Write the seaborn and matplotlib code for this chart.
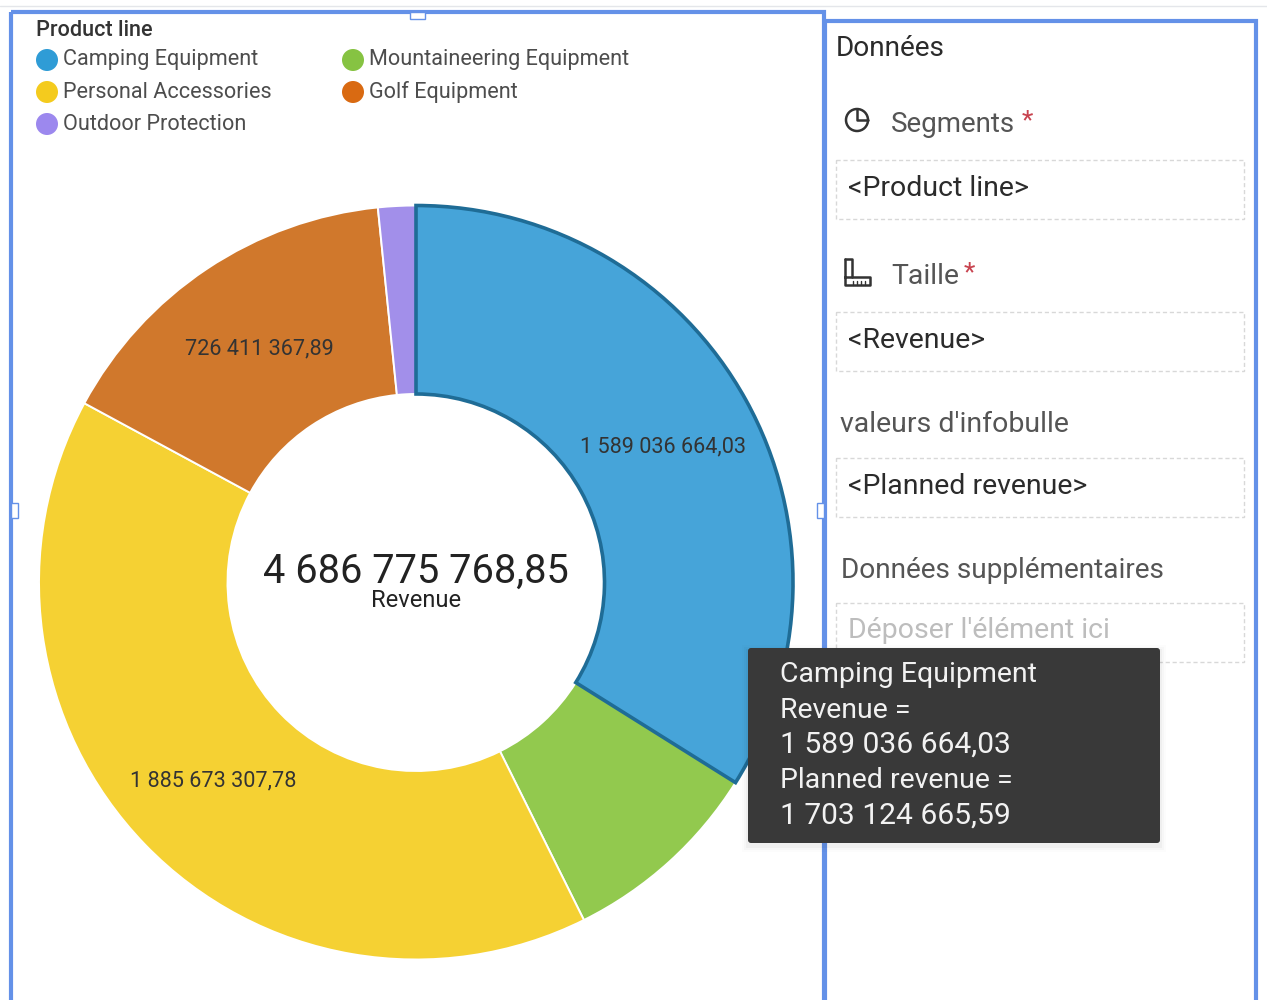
import numpy as np
import matplotlib
matplotlib.use("Agg")
import matplotlib.pyplot as plt
from matplotlib.patches import Rectangle, FancyBboxPatch, Circle
import seaborn as sns

categories = ["Camping Equipment", "Mountaineering Equipment", "Personal Accessories",
              "Golf Equipment", "Outdoor Protection"]
revenue = [1589036664.03, 410000000.0, 1885673307.78, 726411367.89, 75654429.15]
slice_labels = ["1 589 036 664,03", "", "1 885 673 307,78", "726 411 367,89", ""]
slice_colors = ["#46A4D9", "#92C94E", "#F5D133", "#D0782C", "#A28FEA"]
legend_colors = ["#2F9CD6", "#86C342", "#F4CB1E", "#D96A12", "#9C88EE"]
legend_title = "Product line"
total_label = "4 686 775 768,85"
measure_label = "Revenue"
tooltip_lines = ["Camping Equipment", "Revenue =", "1 589 036 664,03",
                 "Planned revenue =", "1 703 124 665,59"]
tooltip_sizes = [20.5, 20.5, 21.6, 20.5, 21.6]

W, H = 1267, 1000
sns.set_theme(style="white")
plt.rcParams["font.family"] = ["Roboto", "DejaVu Sans"]
fig = plt.figure(figsize=(W / 100, H / 100), dpi=100, facecolor="white")

# donut
cx, cy, R = 416, 582.5, 377
ax = fig.add_axes([(cx - R) / W, 1 - (cy + R) / H, 2 * R / W, 2 * R / H])
wedges, _ = ax.pie(revenue, colors=slice_colors, startangle=90, counterclock=False, radius=1,
                   wedgeprops=dict(width=0.5, edgecolor="white", linewidth=1.4))
ax.set_xlim(-1, 1)
ax.set_ylim(-1, 1)
ax.set_aspect("equal")
ax.patch.set_alpha(0)
wedges[0].set_edgecolor("#1F6C96")
wedges[0].set_linewidth(2.6)
wedges[0].set_zorder(5)
for w, lab in zip(wedges, slice_labels):
    if lab:
        mid = np.deg2rad((w.theta1 + w.theta2) / 2)
        ax.text(0.75 * np.cos(mid), 0.75 * np.sin(mid) - 0.005, lab, ha="center", va="center",
                fontsize=15.6, color="#333333", zorder=6)
ax.text(0, 0.03, total_label, ha="center", va="center", fontsize=28.6, color="#222222")
ax.text(0, -0.047, measure_label, ha="center", va="center", fontsize=17, color="#222222")

# page overlay in pixel coordinates
ov = fig.add_axes([0, 0, 1, 1], zorder=10)
ov.set_xlim(0, W)
ov.set_ylim(H, 0)
ov.axis("off")
ov.patch.set_alpha(0)

ov.plot([0, W], [6, 6], color="#E4E6EA", lw=1)
blue = "#6491E8"
ov.add_patch(Rectangle((11, 12), 813, 1000, fill=False, ec=blue, lw=3))
ov.add_patch(Rectangle((825, 21), 431, 1000, fill=False, ec=blue, lw=3))
for (x, y, w, h) in [(410, 12, 15, 7), (11, 503, 7, 15), (817, 503, 7, 15)]:
    ov.add_patch(Rectangle((x, y), w, h, fc="white", ec=blue, lw=1))

# legend
ov.text(36, 30, legend_title, fontsize=15.6, fontweight="medium", color="#333333", va="center")
legend_pos = [(47, 60), (353, 60), (47, 92), (353, 92), (47, 124)]
for (x, y), name, col in zip(legend_pos, categories, legend_colors):
    ov.add_patch(Circle((x, y), 11, color=col, lw=0))
    ov.text(x + 16, y, name, fontsize=15.6, color="#4d4d4d", va="center")

# data panel
ink = "#2b2b2b"
grey = "#555555"
ov.text(836, 48, "Données", fontsize=20.2, color=ink, va="center")
ov.text(891, 124, "Segments", fontsize=20, color=grey, va="center")
ov.text(1022, 121, "*", fontsize=19, color="#C8434F", va="center")
ov.text(891, 276, "Taille", fontsize=20.4, color=grey, va="center")
ov.text(964, 273, "*", fontsize=19, color="#C8434F", va="center")
ov.text(840, 425, "valeurs d'infobulle", fontsize=20.5, color=grey, va="center")
ov.text(841, 571, "Données supplémentaires", fontsize=20.2, color=grey, va="center")

for top, txt, col in [(160, "<Product line>", ink), (312, "<Revenue>", ink),
                      (458, "<Planned revenue>", ink), (603, "Déposer l'élément ici", "#BDBDBD")]:
    ov.add_patch(Rectangle((836, top), 408, 59, fill=False, ec="#D8D8D8", lw=1, ls=(0, (3, 2))))
    ov.text(848, top + 28, txt, fontsize=20.5, color=col, va="center")

# icons
ov.add_patch(Circle((857, 120), 11, fill=False, ec="#333333", lw=1.8))
ov.plot([857, 857, 868], [109, 120, 120], color="#333333", lw=1.8)
ov.plot([845, 845, 870, 870, 845], [259, 285, 285, 277, 277], color="#333333", lw=1.8)
ov.plot([845, 852, 852], [259, 259, 277], color="#333333", lw=1.8)
for x in [853, 857, 861, 865]:
    ov.plot([x, x], [285, 281], color="#333333", lw=1)

# tooltip
for i, a in enumerate([0.012, 0.02, 0.03]):
    g = 6 - 2 * i
    ov.add_patch(Rectangle((748 - g, 648 - g + 3), 412 + 2 * g, 195 + 2 * g, fc="black", alpha=a, lw=0))
ov.add_patch(FancyBboxPatch((750, 650), 408, 191, boxstyle="round,pad=2,rounding_size=3",
                            fc="#393939", ec="none", zorder=5))
for y, line, size in zip([674, 710, 745, 781, 816], tooltip_lines, tooltip_sizes):
    ov.text(780, y, line, fontsize=size, color="#F2F2F2", va="center", zorder=6)

fig.savefig("out.png", dpi=100, facecolor="white")
